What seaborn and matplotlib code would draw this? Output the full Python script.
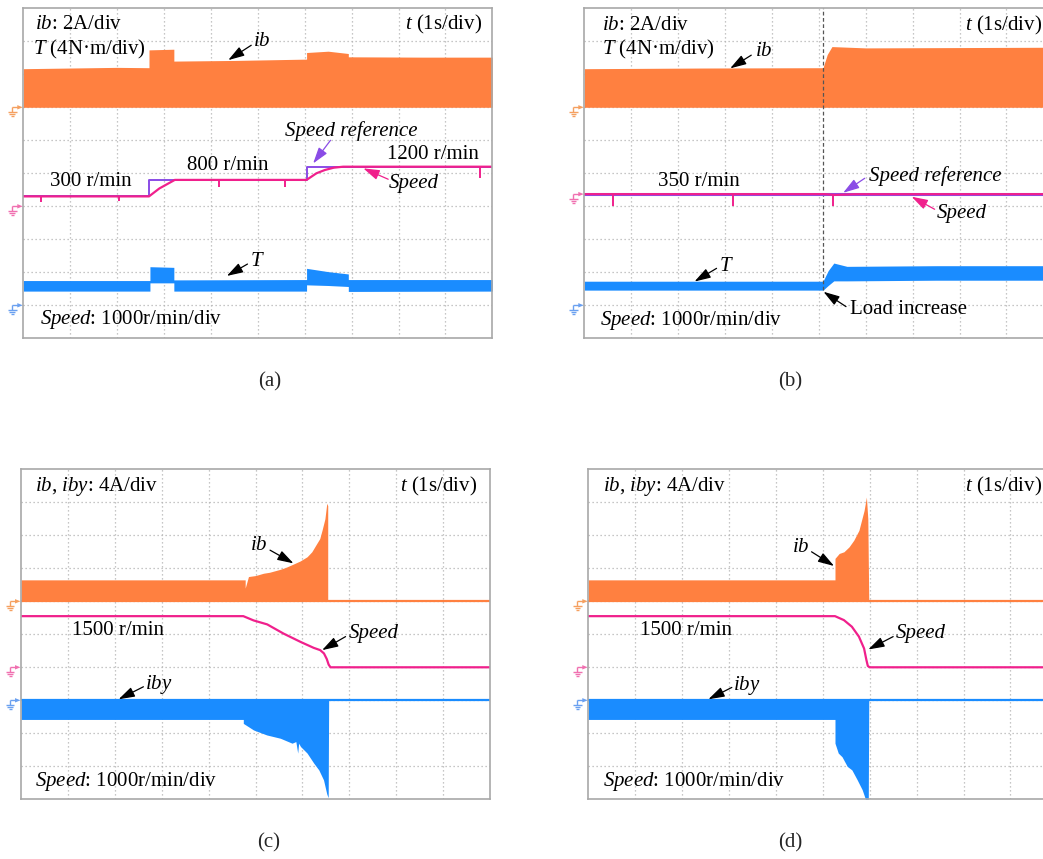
import numpy as np
import pandas as pd
import matplotlib
matplotlib.use("Agg")
import matplotlib.pyplot as plt
import seaborn as sns

# ---------------- data ----------------
# panel (a): ib in A (2 A/div), speed in r/min (1000 r/min/div), T in N*m (4 N*m/div)
a_ib_t = [0, 1.0, 2.0, 2.68, 2.68, 3.21, 3.21, 4.5, 6.04, 6.04, 6.5, 6.93, 6.93, 8.5, 10]
a_ib_A = [2.34, 2.38, 2.42, 2.40, 3.48, 3.52, 2.80, 2.84, 2.92, 3.32, 3.40, 3.26, 3.06, 3.04, 3.04]
a_spd_t = [0, 2.68, 2.9, 3.23, 6.04, 6.25, 6.43, 6.62, 6.82, 10]
a_spd_rpm = [300, 300, 540, 800, 800, 1000, 1100, 1170, 1200, 1200]
a_ref_t = [0, 2.68, 2.68, 6.04, 6.04, 10]
a_ref_rpm = [300, 300, 800, 800, 1200, 1200]
a_spike_t = [0.38, 2.05, 4.18, 5.58, 9.74]
a_spike_rpm = [300, 300, 800, 800, 1200]
a_spike_drop = [170, 150, 220, 230, 330]
a_T_t = [0, 2.70, 2.70, 3.21, 3.21, 6.04, 6.04, 6.5, 6.93, 6.93, 10]
a_T_hi = [3.0, 3.0, 4.68, 4.6, 3.08, 3.12, 4.48, 4.08, 3.8, 3.12, 3.12]
a_T_lo = [1.72, 1.72, 2.72, 2.72, 1.72, 1.72, 2.48, 2.4, 2.28, 1.68, 1.72]

# panel (b)
b_ib_t = [0, 2.5, 5.09, 5.18, 5.28, 6.0, 8.0, 10]
b_ib_A = [2.34, 2.38, 2.40, 3.2, 3.68, 3.6, 3.62, 3.64]
b_spd_t = [0, 5.12, 5.35, 5.8, 10]
b_spd_rpm = [370, 370, 345, 368, 370]
b_ref_t = [0, 10]
b_ref_rpm = [370, 370]
b_spike_t = [0.62, 3.18, 5.3]
b_spike_rpm = [370, 370, 370]
b_spike_drop = [350, 350, 350]
b_T_t = [0, 5.09, 5.2, 5.32, 5.6, 7.5, 10]
b_T_hi = [2.92, 2.92, 4.2, 5.12, 4.72, 4.8, 4.8]
b_T_lo = [1.84, 1.84, 2.4, 2.96, 2.96, 3.04, 3.04]
b_load_t = 5.09

# panel (c): ib, iby in A (4 A/div)
c_ib_t = [0, 4.78, 4.78, 4.85, 5.0, 5.17, 5.3, 5.53, 5.65, 5.81, 5.95, 6.10, 6.2, 6.31, 6.37, 6.42, 6.48, 6.52, 6.54, 6.54]
c_ib_A = [2.6, 2.6, 1.6, 3.0, 3.12, 3.4, 3.52, 3.88, 4.12, 4.52, 4.88, 5.4, 6.0, 7.04, 7.6, 8.64, 10.0, 11.88, 11.6, 0]
c_spd_t = [0, 4.74, 4.96, 5.25, 5.6, 5.96, 6.24, 6.38, 6.46, 6.52, 6.56, 6.6, 10]
c_spd_rpm = [1550, 1550, 1420, 1300, 1020, 770, 590, 520, 420, 250, 80, 0, 0]
c_iby_t = [0, 4.74, 4.74, 4.96, 5.24, 5.53, 5.78, 5.86, 5.9, 5.92, 5.96, 6.1, 6.24, 6.35, 6.45, 6.52, 6.55, 6.56]
c_iby_A = [-2.32, -2.32, -2.8, -3.6, -4.2, -4.6, -5.2, -5.0, -6.4, -5.2, -5.6, -6.4, -7.6, -8.44, -9.64, -11.36, -11.8, 0]

# panel (d)
d_ib_t = [0, 5.26, 5.26, 5.35, 5.45, 5.56, 5.66, 5.77, 5.88, 5.93, 5.96, 5.98]
d_ib_A = [2.6, 2.6, 5.2, 5.8, 6.0, 6.6, 7.4, 8.6, 11.0, 12.64, 10.0, 0]
d_spd_t = [0, 5.26, 5.45, 5.62, 5.77, 5.88, 5.93, 5.96, 6.0, 10]
d_spd_rpm = [1550, 1550, 1430, 1230, 930, 570, 220, 40, 0, 0]
d_iby_t = [0, 5.26, 5.26, 5.33, 5.41, 5.52, 5.62, 5.73, 5.84, 5.91, 5.97, 5.98]
d_iby_A = [-2.32, -2.32, -5.2, -6.4, -6.84, -8.0, -8.44, -9.6, -10.84, -12.0, -12.0, 0]

# ---------------- style ----------------
sns.set_theme(style="white")
plt.rcParams["font.family"] = ["Liberation Serif", "DejaVu Serif"]
plt.rcParams["mathtext.fontset"] = "custom"
plt.rcParams["mathtext.rm"] = "Liberation Serif"
plt.rcParams["mathtext.it"] = "Liberation Serif:italic"

ORANGE = "#FF8040"
PINK = "#F0208C"
PURPLE = "#8A4CE6"
BLUE = "#1A8CFF"
M_OR = "#F5A060"
M_PK = "#F070B0"
M_BL = "#6AA0F0"
FS = 15

W, H = 1043, 859
fig = plt.figure(figsize=(W / 100, H / 100), dpi=100)


def make_ax(left_px, top_px, w_px=469, h_px=330):
    ax = fig.add_axes([left_px / W, 1 - (top_px + h_px) / H, w_px / W, h_px / H])
    ax.set_xlim(0, 10)
    ax.set_ylim(0, 10)
    ax.set_xticks(np.arange(1, 10))
    ax.set_yticks(np.arange(1, 10))
    ax.tick_params(length=0, labelbottom=False, labelleft=False)
    ax.grid(True, color="#B4B4B4", linestyle=(0, (1, 2.2)), linewidth=0.9)
    for s in ax.spines.values():
        s.set_color("#A8A8A8")
        s.set_linewidth(1.2)
    ax.set_facecolor("white")
    return ax


def ground(ax, y, color):
    # small oscilloscope ground symbol left of the frame (pixel offsets)
    sx = 1 / 469.0
    sy = 1 / 330.0
    yb = y / 10.0
    tr = ax.transAxes
    kw = dict(color=color, lw=1.0, transform=tr, clip_on=False, solid_capstyle="butt")
    ax.plot([-11.5 * sx, -5 * sx], [yb, yb], **kw)
    ax.fill([-6 * sx, -0.5 * sx, -6 * sx], [yb + 2.2 * sy, yb, yb - 2.2 * sy],
            color=color, transform=tr, clip_on=False, lw=0)
    ax.plot([-11 * sx, -11 * sx], [yb, yb - 4.5 * sy], **kw)
    for dy, hw in [(4.5, 4.2), (6.8, 2.8), (9.0, 1.5)]:
        ax.plot([(-11 - hw) * sx, (-11 + hw) * sx], [yb - dy * sy, yb - dy * sy], **kw)


def arrow(ax, tail, tip, color="black"):
    ax.annotate("", xy=tip, xytext=tail,
                arrowprops=dict(arrowstyle="-|>,head_length=0.7,head_width=0.22",
                                color=color, lw=0.9, shrinkA=0, shrinkB=0,
                                mutation_scale=14))


def label(ax, x, y, s, ha="left", italic=False):
    ax.text(x, y, s, fontsize=FS, ha=ha, va="center",
            style="italic" if italic else "normal", color="black")


def speed_line(ax, t, rpm, g, color, lw):
    df = pd.DataFrame({"t": t, "y": g + np.asarray(rpm, float) / 1000.0})
    sns.lineplot(data=df, x="t", y="y", ax=ax, color=color, lw=lw,
                 estimator=None, sort=False, legend=False)
    ax.set_xlabel("")
    ax.set_ylabel("")


def spikes(ax, t, rpm, drop, g, color):
    base = g + np.asarray(rpm, float) / 1000.0
    ax.vlines(t, base - np.asarray(drop, float) / 1000.0, base, colors=color, lw=1.4)


# ---------------- panel (a) ----------------
ax = make_ax(23.3, 8.3)
g_ib, g_sp, g_T = 7, 4, 1
ax.fill_between(a_ib_t, g_ib, g_ib + np.asarray(a_ib_A) / 2.0, color=ORANGE, lw=0)
speed_line(ax, a_ref_t, a_ref_rpm, g_sp, PURPLE, 1.4)
speed_line(ax, a_spd_t, a_spd_rpm, g_sp, PINK, 1.6)
spikes(ax, a_spike_t, a_spike_rpm, a_spike_drop, g_sp, PINK)
ax.fill_between(a_T_t, g_T + np.asarray(a_T_lo) / 4.0, g_T + np.asarray(a_T_hi) / 4.0,
                color=BLUE, lw=0)
ax.set_xlim(0, 10); ax.set_ylim(0, 10)
ground(ax, g_ib, M_OR); ground(ax, g_sp, M_PK); ground(ax, g_T, M_BL)
label(ax, 0.25, 9.52, r"$\mathit{ib}$: 2A/div")
label(ax, 0.21, 8.76, r"$\mathit{T}$ (4N·m/div)")
label(ax, 9.79, 9.52, r"$\mathit{t}$ (1s/div)", ha="right")
label(ax, 4.90, 8.99, r"$\mathit{ib}$")
arrow(ax, (4.86, 8.88), (4.37, 8.43))
label(ax, 5.58, 6.29, "Speed reference", italic=True)
arrow(ax, (6.55, 6.0), (6.18, 5.3), PURPLE)
label(ax, 7.75, 5.58, "1200 r/min")
label(ax, 3.48, 5.25, "800 r/min")
label(ax, 0.57, 4.75, "300 r/min")
label(ax, 7.80, 4.68, "Speed", italic=True)
arrow(ax, (7.78, 4.82), (7.25, 5.15), PINK)
label(ax, 4.83, 2.34, r"$\mathit{T}$")
arrow(ax, (4.78, 2.25), (4.34, 1.89))
label(ax, 0.36, 0.58, r"$\mathit{Speed}$: 1000r/min/div")

# ---------------- panel (b) ----------------
ax = make_ax(584.3, 8.3)
g_ib, g_sp, g_T = 7, 4, 1
ax.fill_between(b_ib_t, g_ib, g_ib + np.asarray(b_ib_A) / 2.0, color=ORANGE, lw=0)
ax.vlines(b_load_t, 1.45, 10, colors="#555555", linestyles=(0, (3, 2)), lw=0.9)
speed_line(ax, b_ref_t, b_ref_rpm, g_sp, PURPLE, 2.2)
speed_line(ax, b_spd_t, b_spd_rpm, g_sp, PINK, 1.5)
spikes(ax, b_spike_t, b_spike_rpm, b_spike_drop, g_sp, PINK)
ax.fill_between(b_T_t, g_T + np.asarray(b_T_lo) / 4.0, g_T + np.asarray(b_T_hi) / 4.0,
                color=BLUE, lw=0)
ax.set_xlim(0, 10); ax.set_ylim(0, 10)
ground(ax, g_ib, M_OR); ground(ax, g_sp + b_ref_rpm[0] / 1000.0, M_PK); ground(ax, g_T, M_BL)
label(ax, 0.37, 9.49, r"$\mathit{ib}$: 2A/div")
label(ax, 0.37, 8.76, r"$\mathit{T}$ (4N·m/div)")
label(ax, 9.75, 9.49, r"$\mathit{t}$ (1s/div)", ha="right")
label(ax, 3.64, 8.69, r"$\mathit{ib}$")
arrow(ax, (3.56, 8.58), (3.11, 8.18))
label(ax, 1.58, 4.75, "350 r/min")
label(ax, 6.06, 4.92, "Speed reference", italic=True)
arrow(ax, (5.98, 4.85), (5.52, 4.41), PURPLE)
label(ax, 7.51, 3.79, "Speed", italic=True)
arrow(ax, (7.47, 3.91), (6.98, 4.29), PINK)
label(ax, 2.88, 2.19, r"$\mathit{T}$")
arrow(ax, (2.82, 2.12), (2.35, 1.72))
label(ax, 5.67, 0.88, "Load increase")
arrow(ax, (5.58, 0.96), (5.10, 1.41))
label(ax, 0.33, 0.55, r"$\mathit{Speed}$: 1000r/min/div")

# ---------------- panel (c) ----------------
ax = make_ax(21.0, 469.3)
g_ib, g_sp, g_by = 6, 4, 3
ax.fill_between(c_ib_t, g_ib, g_ib + np.asarray(c_ib_A) / 4.0, color=ORANGE, lw=0)
ax.plot([0, 10], [g_ib, g_ib], color=ORANGE, lw=1.6)
speed_line(ax, c_spd_t, c_spd_rpm, g_sp, PINK, 1.6)
ax.fill_between(c_iby_t, g_by, g_by + np.asarray(c_iby_A) / 4.0, color=BLUE, lw=0)
ax.plot([0, 10], [g_by + 0.01, g_by + 0.01], color=BLUE, lw=1.6)
ax.set_xlim(0, 10); ax.set_ylim(0, 10)
ground(ax, g_ib, M_OR); ground(ax, g_sp, M_PK); ground(ax, g_by, M_BL)
label(ax, 0.30, 9.47, r"$\mathit{ib}$, $\mathit{iby}$: 4A/div")
label(ax, 9.72, 9.47, r"$\mathit{t}$ (1s/div)", ha="right")
label(ax, 4.89, 7.68, r"$\mathit{ib}$")
arrow(ax, (5.31, 7.55), (5.81, 7.15))
label(ax, 1.08, 5.11, "1500 r/min")
label(ax, 6.99, 5.01, "Speed", italic=True)
arrow(ax, (6.92, 4.93), (6.42, 4.52))
label(ax, 2.65, 3.49, r"$\mathit{iby}$")
arrow(ax, (2.61, 3.41), (2.08, 3.03))
label(ax, 0.30, 0.53, r"$\mathit{Speed}$: 1000r/min/div")

# ---------------- panel (d) ----------------
ax = make_ax(588.3, 469.3)
ax.fill_between(d_ib_t, g_ib, g_ib + np.asarray(d_ib_A) / 4.0, color=ORANGE, lw=0)
ax.plot([0, 10], [g_ib, g_ib], color=ORANGE, lw=1.6)
speed_line(ax, d_spd_t, d_spd_rpm, g_sp, PINK, 1.6)
ax.fill_between(d_iby_t, g_by, g_by + np.asarray(d_iby_A) / 4.0, color=BLUE, lw=0)
ax.plot([0, 10], [g_by + 0.01, g_by + 0.01], color=BLUE, lw=1.6)
ax.set_xlim(0, 10); ax.set_ylim(0, 10)
ground(ax, g_ib, M_OR); ground(ax, g_sp, M_PK); ground(ax, g_by, M_BL)
label(ax, 0.32, 9.47, r"$\mathit{ib}$, $\mathit{iby}$: 4A/div")
label(ax, 9.67, 9.47, r"$\mathit{t}$ (1s/div)", ha="right")
label(ax, 4.34, 7.64, r"$\mathit{ib}$")
arrow(ax, (4.76, 7.5), (5.24, 7.07))
label(ax, 1.10, 5.11, "1500 r/min")
label(ax, 6.56, 5.01, "Speed", italic=True)
arrow(ax, (6.50, 4.93), (5.97, 4.54))
label(ax, 3.09, 3.46, r"$\mathit{iby}$")
arrow(ax, (3.06, 3.39), (2.56, 3.03))
label(ax, 0.32, 0.53, r"$\mathit{Speed}$: 1000r/min/div")

# ---------------- captions ----------------
for s, x, y in [("(a)", 270, 382), ("(b)", 790, 382), ("(c)", 269, 843), ("(d)", 790, 843)]:
    fig.text(x / W, 1 - y / H, s, ha="center", va="center", fontsize=FS)

fig.savefig("out.png", dpi=100, facecolor="white")
